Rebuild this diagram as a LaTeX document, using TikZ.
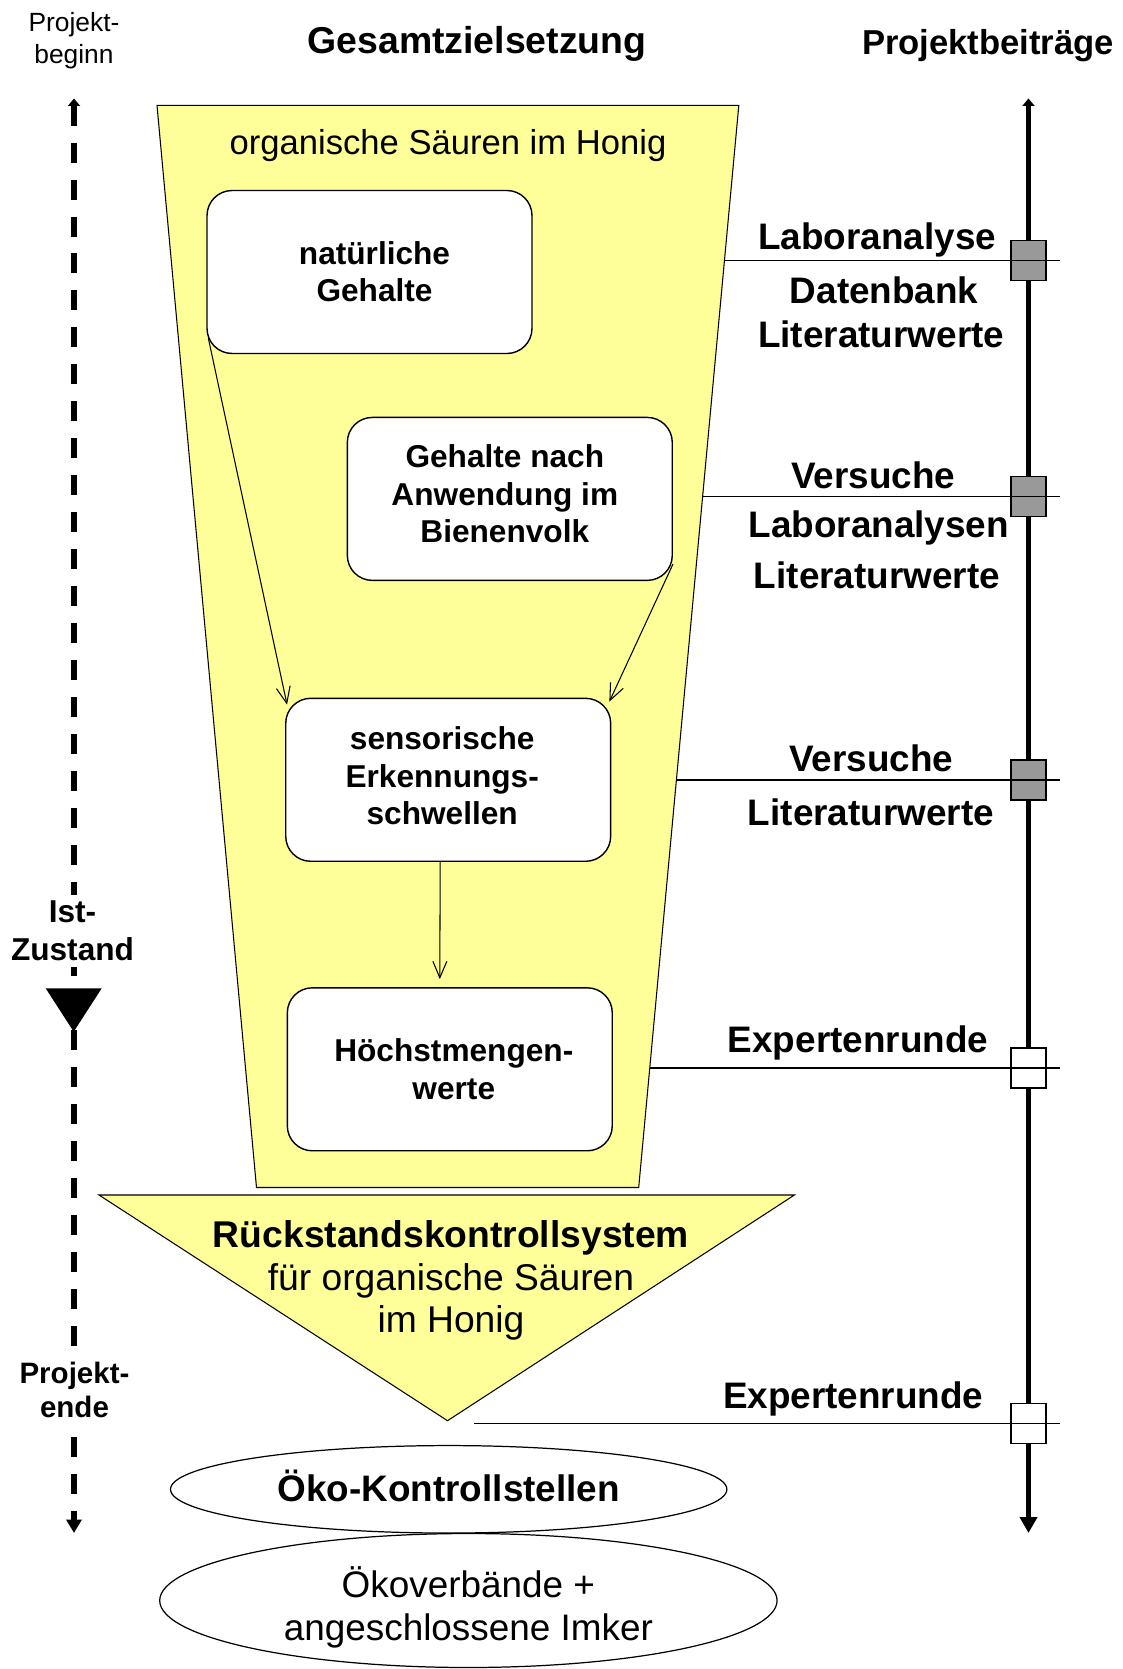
\documentclass[tikz,border=0pt]{standalone}
\usepackage{fontspec}
\setmainfont{Liberation Sans}
\usetikzlibrary{arrows.meta,shapes.geometric}
\definecolor{honig}{RGB}{255,255,153}

\begin{document}
\begin{tikzpicture}[
    x = 0.02cm, y = -0.02cm,
    > = {Straight Barb[length=0.33cm, width=0.28cm]},
    box/.style = {draw, fill=white, rounded corners=0.5cm, line width=0.8pt,
        minimum width=6.5cm, minimum height=3.26cm},
    boxtext/.style = {align=center, font=\bfseries\fontsize{18}{21.2}\selectfont},
    flow/.style = {->, line width=0.6pt},
    beitrag/.style = {anchor=base, font=\bfseries\fontsize{21}{25}\selectfont},
    marke/.style = {draw, line width=1pt, minimum width=0.7cm, minimum height=0.8cm, inner sep=0pt},
    tick/.style = {line width=0.6pt},
    zeit/.style = {fill=white, align=center, inner sep=0.12cm},
    oval/.style = {draw, ellipse, line width=0.7pt, inner sep=0pt},
    ovaltext/.style = {align=center, font=\fontsize{21}{24.4}\selectfont}
]
    \useasboundingbox (0,0) rectangle (1122,1669);

    % Zeitachse links
    \coordinate (lbeg) at (74,98.5);
    \coordinate (lend) at (74,1533);
    \draw[line width=3.4pt, dash pattern=on 0.4cm off 0.34cm,
        {Triangle[width=0.24cm,length=0.15cm]}-{Triangle[width=0.3cm,length=0.27cm]}] (lbeg) -- (lend);
    \node[font=\fontsize{15}{18.2}\selectfont, align=center] (beginn) at (74,41) {Projekt-\\beginn};
    \node[zeit, font=\bfseries\fontsize{18}{21.6}\selectfont] (ist) at (72.5,930.7) {Ist-\\Zustand};
    \fill (45.7,988.3) -- (101.7,988.3) -- (73.7,1031.7) -- cycle;
    \node[zeit, font=\bfseries\fontsize{16.8}{19}\selectfont] (ende) at (74.5,1390) {Projekt-\\ende};

    % Ueberschriften
    \node[anchor=base, font=\bfseries\fontsize{21.3}{25}\selectfont] (ziel) at (477,54) {Gesamtzielsetzung};
    \node[anchor=base, font=\bfseries\fontsize{19.7}{23}\selectfont] (beitraege) at (988,55) {Projektbeiträge};

    % Trichter
    \coordinate (ftl) at (157,105.4);
    \coordinate (ftr) at (738.8,105.4);
    \coordinate (fbr) at (638.7,1187.5);
    \coordinate (fbl) at (256.5,1187.5);
    \filldraw[fill=honig, line width=0.6pt] (ftl) -- (ftr) -- (fbr) -- (fbl) -- cycle;
    \node[anchor=base, font=\fontsize{19.7}{23}\selectfont] (thema) at (448,155) {organische Säuren im Honig};

    \coordinate (dl) at (99,1195);
    \coordinate (dr) at (794.4,1195);
    \coordinate (dspitze) at (447.5,1420.7);
    \filldraw[fill=honig, line width=0.6pt] (dl) -- (dr) -- (dspitze) -- cycle;
    \node[align=center, font=\fontsize{21.2}{24.4}\selectfont] (system) at (451,1280.4)
        {\textbf{Rückstandskontrollsystem}\\für organische Säuren\\im Honig};

    % Kaesten
    \node[box, label={[boxtext, shift={(5,0)}]center:{natürliche\\Gehalte}}] (natur) at (369.5,272) {};
    \node[box, label={[boxtext, shift={(-5,-5)}]center:{Gehalte nach\\Anwendung im\\Bienenvolk}}] (anwendung) at (509.8,498.9) {};
    \node[box, label={[boxtext, shift={(-6,-4)}]center:{sensorische\\Erkennungs-\\schwellen}}] (schwelle) at (448.2,779.8) {};
    \node[box, label={[boxtext, shift={(4,0)}]center:{Höchstmengen-\\werte}}] (hoechst) at (449.8,1069.3) {};

    \draw[flow] ([shift={(2,-16)}]natur.south west) -- ([shift={(2,7)}]schwelle.north west);
    \draw[flow] ([shift={(0,-17)}]anwendung.south east) -- ([shift={(-2,4)}]schwelle.north east);
    \draw[flow] ([shift={(-8,0)}]schwelle.south) -- ([shift={(-10,-8)}]hoechst.north);

    % Ellipsen
    \node[oval, minimum width=11.13cm, minimum height=1.75cm,
        label={[ovaltext, font=\bfseries\fontsize{21}{25}\selectfont, shift={(0,-3)}]center:{Öko-Kontrollstellen}}] (stellen) at (448.7,1489.3) {};
    \node[oval, minimum width=12.35cm, minimum height=2.68cm,
        label={[ovaltext, shift={(0,7)}]center:{Ökoverbände +\\angeschlossene Imker}}] (verbaende) at (468.4,1600.5) {};

    % Zeitachse rechts
    \coordinate (rbeg) at (1028.5,98.5);
    \coordinate (rend) at (1028.5,1533);
    \draw[line width=3.2pt,
        {Triangle[width=0.24cm,length=0.15cm]}-{Triangle[width=0.34cm,length=0.32cm]}] (rbeg) -- (rend);

    \node[marke, fill=black!40] (m1) at (1028.5,260.5) {};
    \node[marke, fill=black!40] (m2) at (1028.5,496.5) {};
    \node[marke, fill=black!40] (m3) at (1028.5,780) {};
    \node[marke, fill=white] (m4) at (1028.5,1068) {};
    \node[marke, fill=white] (m5) at (1028.5,1423.5) {};

    \coordinate (e1) at (724.4,260.5);
    \coordinate (e2) at (702.6,496.5);
    \coordinate (e3) at (676.4,780);
    \coordinate (e4) at (649.7,1068);
    \coordinate (e5) at (474,1423.5);
    \draw[tick] (e1) -- (m1.center) -- ++(31,0);
    \draw[tick] (e2) -- (m2.center) -- ++(31,0);
    \draw[tick] (e3) -- (m3.center) -- ++(31,0);
    \draw[tick] (e4) -- (m4.center) -- ++(31,0);
    \draw[tick] (e5) -- (m5.center) -- ++(31,0);

    \node[beitrag] (labor1) at (877.2,249.3) {Laboranalyse};
    \node[beitrag] (datenbank) at (884.2,303.5) {Datenbank};
    \node[beitrag] (literatur1) at (881.2,347.7) {Literaturwerte};
    \node[beitrag] (versuche1) at (873.3,488) {Versuche};
    \node[beitrag] (labor2) at (878.8,537.3) {Laboranalysen};
    \node[beitrag] (literatur2) at (877,588.5) {Literaturwerte};
    \node[beitrag] (versuche2) at (871.4,771) {Versuche};
    \node[beitrag] (literatur3) at (871,825) {Literaturwerte};
    \node[beitrag] (experten1) at (858,1052.8) {Expertenrunde};
    \node[beitrag] (experten2) at (853.2,1408) {Expertenrunde};
\end{tikzpicture}
\end{document}
